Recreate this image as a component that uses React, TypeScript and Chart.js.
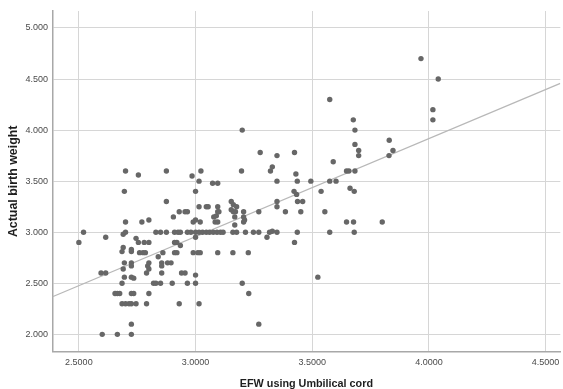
import React, { useEffect, useRef } from "react";
import { Chart, registerables } from "chart.js";

Chart.register(...registerables);

// EFW using umbilical cord (kg)
const efw: number[] = [
  2.5, 2.52, 2.595, 2.615, 2.615, 2.6, 2.665, 2.725, 2.725, 2.655,
  2.665, 2.675, 2.685, 2.7, 2.715, 2.725, 2.735, 2.725, 2.745, 2.7,
  2.755, 2.695, 2.7, 2.69, 2.7, 2.69, 2.685, 2.695, 2.69, 2.695,
  2.685, 2.725, 2.725, 2.725, 2.725, 2.725, 2.735, 2.745, 2.755, 2.77,
  2.8, 2.76, 2.775, 2.785, 2.78, 2.8, 2.79, 2.795, 2.8, 2.8,
  2.8, 2.79, 2.82, 2.83, 2.85, 2.83, 2.85, 2.875, 2.84, 2.855,
  2.855, 2.855, 2.875, 2.875, 2.86, 2.88, 2.895, 2.9, 2.905, 2.91,
  2.92, 2.91, 2.925, 2.935, 2.91, 2.92, 2.93, 2.93, 2.935, 2.94,
  2.955, 2.955, 2.965, 2.965, 2.965, 2.985, 3.015, 3.023, 3.0, 2.99,
  3.0, 3.02, 3.0, 3.0, 2.99, 3.01, 3.02, 3.0, 3.0, 3.015,
  3.015, 3.046, 3.054, 3.073, 3.095, 3.015, 3.03, 3.046, 3.06, 3.076,
  3.092, 3.107, 3.118, 3.078, 3.089, 3.095, 3.1, 3.084, 3.095, 3.095,
  3.095, 3.153, 3.162, 3.176, 3.153, 3.162, 3.171, 3.168, 3.168, 3.16,
  3.176, 3.16, 3.197, 3.2, 3.206, 3.206, 3.21, 3.206, 3.214, 3.226,
  3.2, 3.228, 3.248, 3.271, 3.271, 3.271, 3.277, 3.306, 3.317, 3.329,
  3.321, 3.329, 3.349, 3.349, 3.349, 3.349, 3.349, 3.385, 3.424, 3.43,
  3.436, 3.422, 3.433, 3.437, 3.459, 3.424, 3.436, 3.451, 3.494, 3.524,
  3.538, 3.554, 3.575, 3.575, 3.575, 3.59, 3.602, 3.647, 3.657, 3.647,
  3.662, 3.68, 3.676, 3.683, 3.683, 3.699, 3.699, 3.683, 3.677, 3.68,
  3.8, 3.83, 3.829, 3.846, 3.966, 4.017, 4.017, 4.04, 2.98,
];

// Actual birth weight (kg)
const actualWeight: number[] = [
  2.9, 3.0, 2.6, 2.6, 2.95, 2.0, 2.0, 2.0, 2.1, 2.4,
  2.4, 2.4, 2.3, 2.3, 2.3, 2.4, 2.4, 2.3, 2.3, 3.6,
  3.56, 3.4, 3.1, 2.98, 3.0, 2.85, 2.81, 2.7, 2.64, 2.56,
  2.5, 2.83, 2.81, 2.7, 2.67, 2.56, 2.55, 2.94, 2.9, 3.1,
  3.12, 2.8, 2.8, 2.8, 2.9, 2.9, 2.6, 2.67, 2.7, 2.64,
  2.4, 2.3, 2.5, 2.5, 2.5, 3.0, 3.0, 3.0, 2.76, 2.7,
  2.67, 2.6, 3.3, 3.6, 2.8, 2.7, 2.7, 2.5, 3.15, 2.9,
  2.9, 3.0, 3.0, 3.0, 2.8, 2.8, 3.2, 2.3, 2.87, 2.6,
  2.6, 3.2, 3.2, 2.5, 3.0, 3.55, 3.5, 3.6, 3.4, 3.1,
  3.12, 3.1, 3.0, 2.95, 2.8, 2.8, 2.8, 2.58, 2.5, 2.3,
  3.25, 3.25, 3.25, 3.48, 3.48, 3.0, 3.0, 3.0, 3.0, 3.0,
  3.0, 3.0, 3.0, 3.15, 3.16, 3.2, 3.2, 3.1, 3.1, 3.25,
  2.8, 3.3, 3.27, 3.25, 3.22, 3.2, 3.2, 3.15, 3.07, 3.0,
  3.0, 2.8, 3.6, 4.0, 3.2, 3.15, 3.12, 3.1, 3.0, 2.8,
  2.5, 2.4, 3.0, 3.0, 3.2, 2.1, 3.78, 2.95, 3.0, 3.01,
  3.6, 3.64, 3.0, 3.75, 3.5, 3.3, 3.25, 3.2, 3.78, 3.57,
  3.5, 3.4, 3.37, 3.3, 3.3, 2.9, 3.0, 3.2, 3.5, 2.56,
  3.4, 3.2, 4.3, 3.5, 3.0, 3.69, 3.5, 3.6, 3.6, 3.1,
  3.43, 3.4, 4.1, 4.0, 3.86, 3.8, 3.75, 3.6, 3.1, 3.0,
  3.1, 3.9, 3.75, 3.8, 4.7, 4.2, 4.1, 4.5, 3.0,
];

// Linear fit line end points
const fitX: number[] = [2.387, 4.563];
const fitY: number[] = [2.368, 4.457];

const xTicks: number[] = [2.5, 3.0, 3.5, 4.0, 4.5];
const yTicks: number[] = [2.0, 2.5, 3.0, 3.5, 4.0, 4.5, 5.0];

const xTitle = "EFW using Umbilical cord";
const yTitle = "Actual birth weight";

export default function App() {
  const canvasRef = useRef<HTMLCanvasElement | null>(null);

  useEffect(() => {
    document.body.style.margin = "0";
    const canvas = canvasRef.current;
    if (!canvas) return;

    const points = efw.map((x, i) => ({ x, y: actualWeight[i] }));
    const fit = fitX.map((x, i) => ({ x, y: fitY[i] }));

    const tickFont = { family: "'Liberation Sans Narrow', 'Liberation Sans', Arial, sans-serif", size: 9 };

    const chart = new Chart(canvas, {
      type: "scatter",
      data: {
        datasets: [
          {
            label: "Observed",
            data: points,
            backgroundColor: "#676767",
            borderWidth: 0,
            pointRadius: 2.7,
            pointHoverRadius: 2.7,
          },
          {
            label: "Fit",
            data: fit,
            showLine: true,
            borderColor: "#b8b8b8",
            borderWidth: 1.3,
            pointRadius: 0,
            fill: false,
          } as any,
        ],
      },
      options: {
        animation: false,
        responsive: false,
        devicePixelRatio: 1,
        layout: { padding: { left: 0, right: 0, top: 11, bottom: 0 } },
        plugins: {
          legend: { display: false },
          tooltip: { enabled: false },
        },
        scales: {
          x: {
            type: "linear",
            min: 2.387,
            max: 4.563,
            afterBuildTicks: (s: any) => {
              s.ticks = xTicks.map((v) => ({ value: v }));
            },
            afterFit: (s: any) => {
              s.height = 37.3;
              s.paddingLeft = 0;
              s.paddingRight = 0;
            },
            ticks: {
              callback: (v: any) => Number(v).toFixed(4),
              font: tickFont,
              color: "#4a4a4a",
              padding: 5,
              maxRotation: 0,
              autoSkip: false,
            },
            grid: { color: "#d6d6d6", lineWidth: 1, drawTicks: false },
            border: { color: "#a8a8a8", width: 1.5 },
            title: {
              display: true,
              text: xTitle,
              color: "#1e1e1e",
              font: { family: "'Liberation Sans', Arial, sans-serif", size: 10.8, weight: "bold", lineHeight: 1 },
              padding: { top: 0, bottom: 0 },
            },
          },
          y: {
            type: "linear",
            min: 1.83,
            max: 5.166,
            afterBuildTicks: (s: any) => {
              s.ticks = yTicks.map((v) => ({ value: v }));
            },
            afterFit: (s: any) => {
              s.width = 52.5;
              s.paddingTop = 0;
              s.paddingBottom = 0;
            },
            ticks: {
              callback: (v: any) => Number(v).toFixed(3),
              font: tickFont,
              color: "#4a4a4a",
              padding: 4.5,
              autoSkip: false,
            },
            grid: { color: "#d6d6d6", lineWidth: 1, drawTicks: false },
            border: { color: "#a8a8a8", width: 1.5 },
            title: {
              display: true,
              text: yTitle,
              color: "#1e1e1e",
              font: { family: "'Liberation Sans', Arial, sans-serif", size: 12.4, weight: "bold", lineHeight: 1 },
              padding: { top: 7.3, bottom: 0 },
            },
          },
        },
      },
    });

    return () => chart.destroy();
  }, []);

  return (
    <div style={{ width: 563, height: 389, background: "#ffffff" }}>
      <canvas ref={canvasRef} width={563} height={389} style={{ display: "block" }} />
    </div>
  );
}
